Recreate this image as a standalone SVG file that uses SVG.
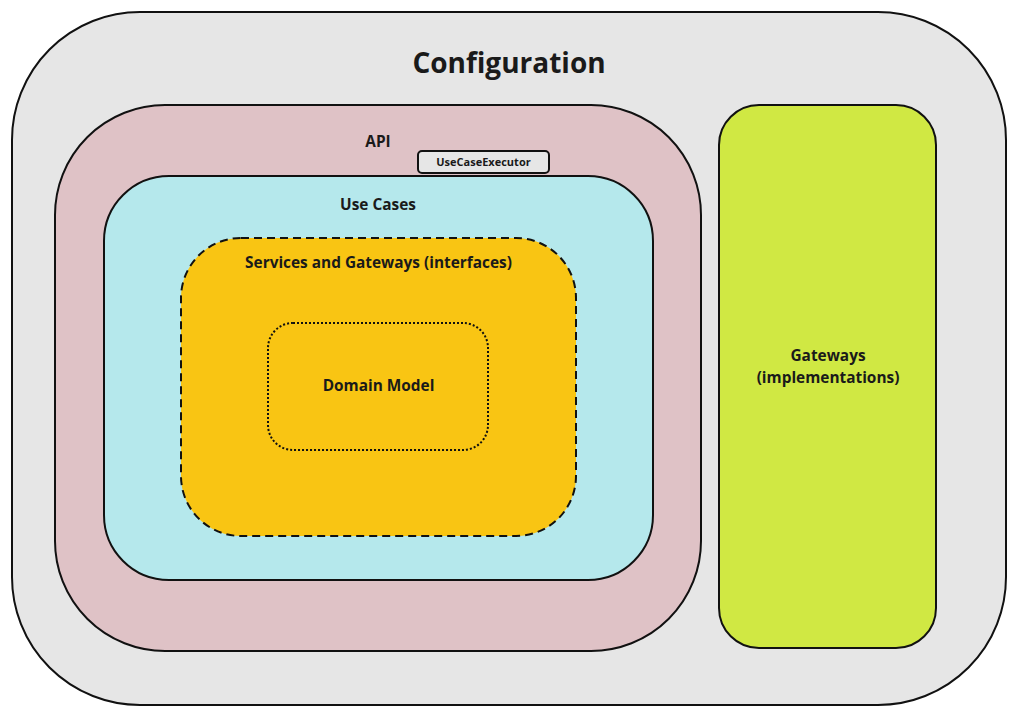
<svg xmlns="http://www.w3.org/2000/svg" width="1024" height="722" viewBox="0 0 1024 722">
<style>
.box{stroke:#111;stroke-width:2}
.t{font-family:"Open Sans","Noto Sans","DejaVu Sans",sans-serif;font-weight:700;fill:#1a1a1a;text-anchor:middle;dominant-baseline:central}
</style>
<rect width="1024" height="722" fill="#ffffff"/>
<g id="configuration">
<rect class="box" x="12" y="12" width="994" height="693" rx="128" ry="128" fill="#e6e6e6"/>
<text class="t" x="509" y="62" font-size="28">Configuration</text>
</g>
<g id="api">
<rect class="box" x="55" y="105" width="646" height="546" rx="110" ry="110" fill="#dfc2c6"/>
<text class="t" x="378" y="141" font-size="15.4">API</text>
</g>
<g id="use-cases">
<rect class="box" x="104" y="176" width="549" height="404" rx="65" ry="65" fill="#b5e8ec" stroke-width="2.5"/>
<text class="t" x="378" y="204" font-size="15.4">Use Cases</text>
</g>
<g id="use-case-executor">
<rect class="box" x="418" y="151" width="131" height="22" rx="4" ry="4" fill="#e6e6e6"/>
<text class="t" x="483.5" y="161.5" font-size="11" font-weight="600">UseCaseExecutor</text>
</g>
<g id="services">
<rect x="181" y="238" width="395" height="298" rx="60" ry="60" fill="#f9c513" stroke="#111" stroke-width="2" stroke-dasharray="8 5"/>
<text class="t" x="378.5" y="262" font-size="15.4">Services and Gateways (interfaces)</text>
</g>
<g id="domain-model">
<rect x="268" y="323" width="220" height="127" rx="25" ry="25" fill="#f9c513" stroke="#111" stroke-width="2" stroke-dasharray="2 2"/>
<text class="t" x="378.5" y="385" font-size="15.4">Domain Model</text>
</g>
<g id="gateways">
<rect class="box" x="719" y="105" width="217" height="543" rx="40" ry="40" fill="#d0e843"/>
<text class="t" x="828" y="355" font-size="15.4">Gateways</text>
<text class="t" x="828" y="377" font-size="15.4">(implementations)</text>
</g>
<g id="connectors"></g>
</svg>
